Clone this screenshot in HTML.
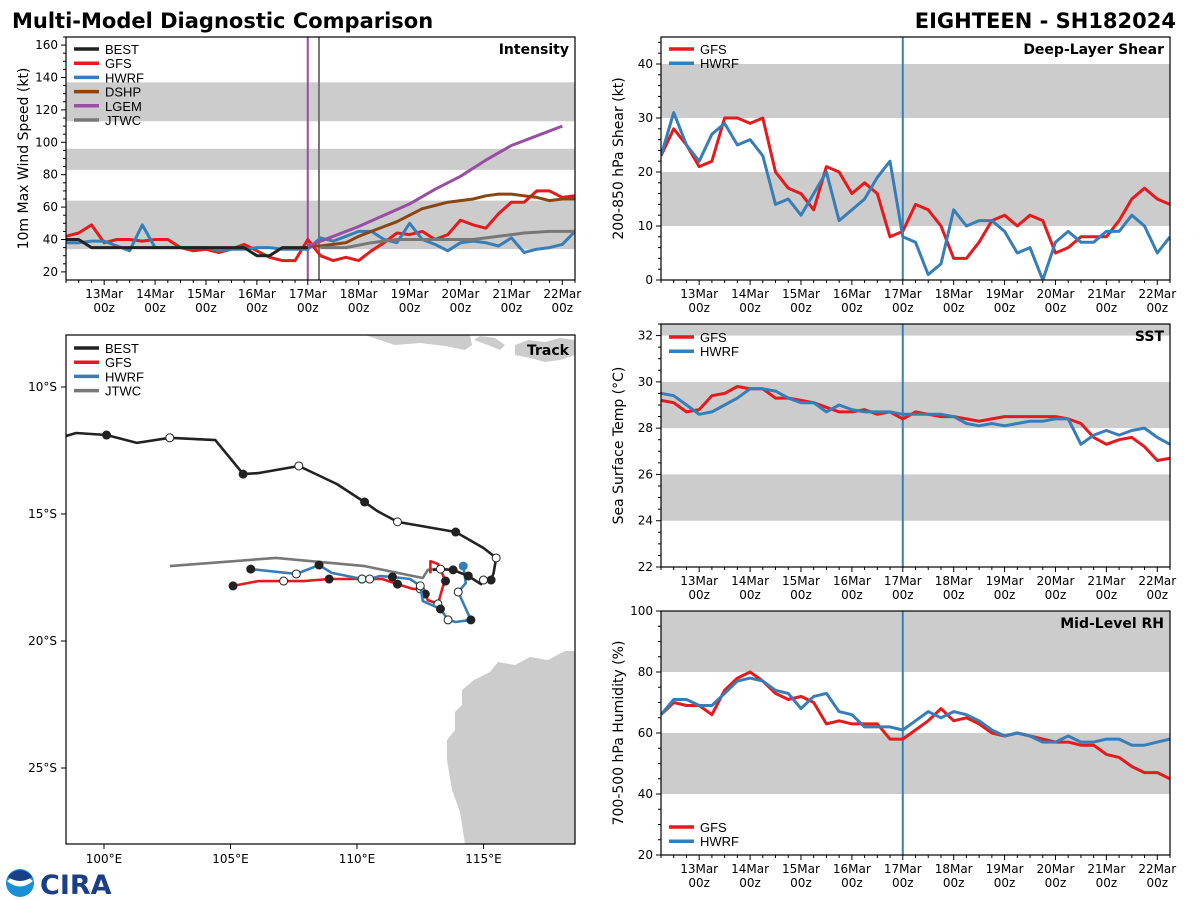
<!DOCTYPE html>
<html><head><meta charset="utf-8"><title>Multi-Model Diagnostic Comparison</title>
<style>
html,body{margin:0;padding:0;background:#fff;}
svg{display:block;font-family:"DejaVu Sans","Liberation Sans",sans-serif;}
.lg{font-family:"Liberation Sans","DejaVu Sans",sans-serif;}
</style></head>
<body>
<svg id="root" width="1200" height="900" viewBox="0 0 1200 900" xmlns="http://www.w3.org/2000/svg">
<text x="12" y="28" font-size="21" font-weight="bold" fill="#000">Multi-Model Diagnostic Comparison</text>
<text x="1176" y="28" font-size="21" font-weight="bold" fill="#000" text-anchor="end">EIGHTEEN - SH182024</text>
<g>
<circle cx="20" cy="883" r="14" fill="#1a8fd6"/>
<path d="M7,881 Q20,870 33,881 Q20,892 7,881Z" fill="#fff"/>
<path d="M8,877 A14,14 0 0 1 32,877 Q20,885 8,877Z" fill="#1b3f86"/>
<text x="40" y="894" font-size="27" font-weight="bold" fill="#1b3f86">CIRA</text>
</g>
<g id="plots"></g>
</svg>
<script>
// ---------- data ----------
const tSix = [];
for (let i = 0; i < 41; i++) tSix.push(-0.75 + i * 0.25);
const dayLabels = ["13Mar","14Mar","15Mar","16Mar","17Mar","18Mar","19Mar","20Mar","21Mar","22Mar"];

const bestInt = [40,40,35,35,35,35,35,35,35,35,35,35,35,35,35,30,30,35,35,35];
const gfsInt = [42,44,49,38,40,40,39,40,40,35,33,34,32,34,37,33,29,27,27,40,30,27,29,27,33,38,44,43,45,40,43,52,49,47,56,63,63,70,70,66,67];
const hwrfInt = [38,38,39,39,36,33,49,35,35,35,35,35,33,34,34,35,35,34,34,34,41,39,42,45,45,40,38,50,40,37,33,38,39,38,36,41,32,34,35,37,45];
const dshpT = [4,4.25,4.5,4.75,5,5.25,5.5,5.75,6,6.25,6.5,6.75,7,7.25,7.5,7.75,8,8.25,8.5,8.75,9,9.25];
const dshpInt = [36,36,37,38,42,45,48,51,55,59,61,63,64,65,67,68,68,67,66,64,65,65];
const lgemT = [4,4.5,5,5.5,6,6.5,7,7.5,8,8.5,9];
const lgemInt = [36,42,48,55,62,71,79,89,98,104,110];
const jtwcT = [4.25,4.75,5.25,5.75,6.25,6.75,7.25,7.75,8.25,8.75,9.25];
const jtwcInt = [35,35,38,40,40,40,40,42,44,45,45];

const gfsShear = [23,28,25,21,22,30,30,29,30,20,17,16,13,21,20,16,18,16,8,9,14,13,10,4,4,7,11,12,10,12,11,5,6,8,8,8,11,15,17,15,14];
const hwrfShear = [23,31,25,22,27,29,25,26,23,14,15,12,16,20,11,13,15,19,22,8,7,1,3,13,10,11,11,9,5,6,0,7,9,7,7,9,9,12,10,5,8];

const gfsSst = [29.2,29.1,28.7,28.8,29.4,29.5,29.8,29.7,29.7,29.3,29.3,29.2,29.1,28.9,28.7,28.7,28.8,28.6,28.7,28.4,28.7,28.6,28.5,28.5,28.4,28.3,28.4,28.5,28.5,28.5,28.5,28.5,28.4,28.2,27.6,27.3,27.5,27.6,27.2,26.6,26.7];
const hwrfSst = [29.5,29.4,29.0,28.6,28.7,29.0,29.3,29.7,29.7,29.6,29.3,29.1,29.1,28.7,29.0,28.8,28.7,28.7,28.7,28.6,28.6,28.6,28.6,28.5,28.2,28.1,28.2,28.1,28.2,28.3,28.3,28.4,28.4,27.3,27.7,27.9,27.7,27.9,28.0,27.6,27.3];

const gfsRh = [66,70,69,69,66,74,78,80,77,73,71,72,70,63,64,63,63,63,58,58,61,64,68,64,65,63,60,59,60,59,58,57,57,56,56,53,52,49,47,47,45];
const hwrfRh = [66,71,71,69,69,73,77,78,77,74,73,68,72,73,67,66,62,62,62,61,64,67,65,67,66,64,61,59,60,59,57,57,59,57,57,58,58,56,56,57,58];

const bestLon = [98.5,98.9,100.1,101.3,102.6,104.4,105.5,106.1,107.7,109.2,110.3,110.8,111.6,113.9,115.0,115.5,115.4,115.3,115.0,114.9,114.4,113.8,113.3,113.0];
const bestLat = [-11.93,-11.81,-11.89,-12.2,-12.0,-12.09,-13.43,-13.39,-13.11,-13.82,-14.53,-14.88,-15.31,-15.71,-16.34,-16.73,-17.32,-17.6,-17.6,-17.76,-17.44,-17.2,-17.17,-17.2];
const bestMk = [0,0,1,0,2,0,1,0,2,0,1,0,2,1,0,2,0,1,2,0,1,1,2,0];
const gfsLon = [105.1,106.1,107.1,107.9,108.9,110.2,111.0,111.6,112.2,112.5,112.7,112.8,113.2,113.4,113.5,113.2,112.9,112.9];
const gfsLat = [-17.83,-17.64,-17.64,-17.64,-17.56,-17.56,-17.56,-17.76,-17.95,-17.95,-18.15,-18.39,-18.54,-17.84,-17.64,-16.97,-16.86,-17.34];
const gfsMk = [1,0,2,0,1,2,0,1,0,2,1,0,2,0,1,0,0,0];
const hwrfLon = [105.8,107.6,108.5,109.0,110.2,110.5,110.9,111.4,112.1,112.5,112.6,113.3,113.6,113.9,114.5,114.0,114.3,114.2];
const hwrfLat = [-17.17,-17.36,-17.01,-17.32,-17.56,-17.56,-17.44,-17.48,-17.56,-17.83,-18.43,-18.74,-19.17,-19.25,-19.17,-18.07,-17.72,-17.05];
const hwrfMk = [1,2,1,0,2,2,0,1,0,2,0,1,2,0,1,2,0,3];
const jtwcLon = [102.6,106.8,110.3,112.6,112.8,113.1];
const jtwcLat = [-17.05,-16.73,-17.05,-17.52,-17.2,-17.17];

// ---------- helpers ----------
const NS = "http://www.w3.org/2000/svg";
const plots = document.getElementById("plots");
function mk(tag, attrs, parent) {
  const e = document.createElementNS(NS, tag);
  for (const k in attrs) e.setAttribute(k, attrs[k]);
  (parent || plots).appendChild(e);
  return e;
}
const C = {red:"#e41a1c", blue:"#377eb8", black:"#222", brown:"#8b4513", purple:"#984ea3", gray:"#777"};

function timePanel(P) {
  const g = mk("g", {});
  
  
  const X = t => P.x0 + (t + 0.75) / 10 * (P.x1 - P.x0);
  const Y = v => P.y1 - (v - P.vmin) / (P.vmax - P.vmin) * (P.y1 - P.y0);
  P.bands.forEach(b => {
    const r = mk("rect", {x:P.x0, y:Y(Math.min(b[1],P.vmax)), width:P.x1-P.x0, height:Y(b[0])-Y(Math.min(b[1],P.vmax)), fill:"#cccccc"}, g);
    
    
  });
  for (let i = -3; i <= 37; i++) {
    const t = i * 0.25, x = X(t);
    const major = i % 4 === 0;
    mk("line", {x1:x, x2:x, y1:P.y1, y2:P.y1 + (major ? 5 : 3), stroke:"#000"}, g);
    if (major && i >= 0 && i / 4 < dayLabels.length) {
      const l1 = mk("text", {x:x, y:P.y1+18, "font-size":12, "text-anchor":"middle"}, g);
      l1.textContent = dayLabels[i/4];
      
      
      const l2 = mk("text", {x:x, y:P.y1+32, "font-size":12, "text-anchor":"middle"}, g);
      l2.textContent = "00z";
    }
  }
  for (let v = P.tickStart; v <= P.vmax + 1e-6; v += P.minor) {
    const y = Y(v);
    if (y < P.y0 - 0.5) continue;
    const major = Math.abs((v - P.tickStart) / P.major - Math.round((v - P.tickStart) / P.major)) < 1e-6;
    mk("line", {x1:P.x0 - (major ? 5 : 3), x2:P.x0, y1:y, y2:y, stroke:"#000"}, g);
    if (major) {
      const l = mk("text", {x:P.x0-8, y:y+4, "font-size":12, "text-anchor":"end"}, g);
      l.textContent = v;
      
      
    }
  }
  const yt = mk("text", {x:0, y:0, "font-size":14, "text-anchor":"middle", transform:`translate(${P.x0-38},${(P.y0+P.y1)/2}) rotate(-90)`}, g);
  yt.textContent = P.ylabel;
  
  
  (P.vlines || []).forEach(v => {
    const l = mk("line", {x1:X(v[0]), x2:X(v[0]), y1:P.y0, y2:P.y1, stroke:v[1], "stroke-width":2}, g);
    
    
  });
  const cp = "clip-" + P.name;
  const cl = mk("clipPath", {id:cp}, g);
  mk("rect", {x:P.x0, y:P.y0, width:P.x1-P.x0, height:P.y1-P.y0}, cl);
  P.series.forEach(s => {
    const d = s.v.map((v, i) => (i ? "L" : "M") + X(s.t[i]).toFixed(1) + "," + Y(v).toFixed(1)).join("");
    const p = mk("path", {d:d, fill:"none", stroke:s.c, "stroke-width":3, "stroke-linejoin":"round", "clip-path":`url(#${cp})`}, g);
    
    
  });
  mk("rect", {x:P.x0, y:P.y0, width:P.x1-P.x0, height:P.y1-P.y0, fill:"none", stroke:"#000", "stroke-width":1.2}, g);
  const tt = mk("text", {x:P.x1-6, y:P.y0+17, "font-size":14, "font-weight":"bold", "text-anchor":"end"}, g);
  tt.textContent = P.title;
  
  
  legend(g, P.x0+8, P.legendY, P.legend);
}
function legend(g, x, y, items) {
  items.forEach((it, i) => {
    const yy = y + i * 14.2;
    const lg = mk("g", {}, g);
    
    
    mk("line", {x1:x, x2:x+25, y1:yy, y2:yy, stroke:it[1], "stroke-width":3.5}, lg);
    const t = mk("text", {x:x+31, y:yy+5, "font-size":13, "class":"lg"}, lg);
    t.textContent = it[0];
  });
}

timePanel({name:"intensity-panel", x0:66, x1:575, y0:37, y1:280, vmin:15, vmax:165, tickStart:20, major:20, minor:5,
  ylabel:"10m Max Wind Speed (kt)", title:"Intensity", bands:[[34,64],[83,96],[113,137]],
  vlines:[[4,C.purple],[4.22,C.gray]], legendY:49,
  legend:[["BEST",C.black],["GFS",C.red],["HWRF",C.blue],["DSHP",C.brown],["LGEM",C.purple],["JTWC",C.gray]],
  series:[{n:"gfs",t:tSix,v:gfsInt,c:C.red},{n:"hwrf",t:tSix,v:hwrfInt,c:C.blue},{n:"best",t:tSix.slice(0,20),v:bestInt,c:C.black},
    {n:"dshp",t:dshpT,v:dshpInt,c:C.brown},{n:"lgem",t:lgemT,v:lgemInt,c:C.purple},{n:"jtwc",t:jtwcT,v:jtwcInt,c:C.gray}]});
timePanel({name:"shear-panel", x0:661, x1:1170, y0:37, y1:280, vmin:0, vmax:45, tickStart:0, major:10, minor:2,
  ylabel:"200-850 hPa Shear (kt)", title:"Deep-Layer Shear", bands:[[10,20],[30,40]],
  vlines:[[4,C.blue]], legendY:49, legend:[["GFS",C.red],["HWRF",C.blue]],
  series:[{n:"gfs",t:tSix,v:gfsShear,c:C.red},{n:"hwrf",t:tSix,v:hwrfShear,c:C.blue}]});
timePanel({name:"sst-panel", x0:661, x1:1170, y0:324, y1:567, vmin:22, vmax:32.5, tickStart:22, major:2, minor:0.5,
  ylabel:"Sea Surface Temp (°C)", title:"SST", bands:[[24,26],[28,30],[32,33]],
  vlines:[[4,C.blue]], legendY:337, legend:[["GFS",C.red],["HWRF",C.blue]],
  series:[{n:"gfs",t:tSix,v:gfsSst,c:C.red},{n:"hwrf",t:tSix,v:hwrfSst,c:C.blue}]});
timePanel({name:"rh-panel", x0:661, x1:1170, y0:611, y1:855, vmin:20, vmax:100, tickStart:20, major:20, minor:5,
  ylabel:"700-500 hPa Humidity (%)", title:"Mid-Level RH", bands:[[40,60],[80,100]],
  vlines:[[4,C.blue]], legendY:827, legend:[["GFS",C.red],["HWRF",C.blue]],
  series:[{n:"gfs",t:tSix,v:gfsRh,c:C.red},{n:"hwrf",t:tSix,v:hwrfRh,c:C.blue}]});

// ---------- track map ----------
(function(){
  const x0=66,x1=575,y0=335,y1=844;
  const g = mk("g", {});
  
  
  const LX = lon => 104 + (lon - 100) * 25.3;
  const LY = lat => 387 + (-lat - 10) * 25.4;
  const cl = mk("clipPath", {id:"clip-track"}, g);
  mk("rect", {x:x0, y:y0, width:x1-x0, height:y1-y0}, cl);
  const land = mk("g", {"clip-path":"url(#clip-track)", fill:"#cccccc"}, g);
  
  
  mk("path", {d:"M575,651 L565,651 L548,660 L530,657 L515,665 L498,662 L490,672 L474,680 L462,690 L462,705 L455,712 L455,730 L447,740 L447,760 L452,790 L460,812 L465,844 L575,844Z"}, land);
  mk("path", {d:"M365,335 L380,340 L395,345 L420,343 L445,346 L465,350 L472,345 L470,335Z"}, land);
  mk("path", {d:"M474,340 L488,345 L500,350 L505,345 L495,338 L480,336Z"}, land);
  mk("path", {d:"M515,345 L528,340 L545,342 L560,338 L575,340 L575,355 L560,360 L545,362 L530,358 L515,355Z"}, land);
  function track(lon, lat, col, mkr, name) {
    const d = lon.map((v,i)=>(i?"L":"M")+LX(v).toFixed(1)+","+LY(lat[i]).toFixed(1)).join("");
    const p = mk("path", {d:d, fill:"none", stroke:col, "stroke-width":2.6, "stroke-linejoin":"round", "clip-path":"url(#clip-track)"}, g);
    
    
    if (mkr) mkr.forEach((m,i)=>{
      if (!m) return;
      const fill = m===1 ? "#222" : (m===3 ? C.blue : "#fff");
      const c = mk("circle", {cx:LX(lon[i]), cy:LY(lat[i]), r:4, fill:fill, stroke:m===3?C.blue:"#222", "stroke-width":1}, g);
      
      
    });
  }
  track(jtwcLon, jtwcLat, C.gray, null, "jtwc");
  track(gfsLon, gfsLat, C.red, gfsMk, "gfs");
  track(hwrfLon, hwrfLat, C.blue, hwrfMk, "hwrf");
  track(bestLon, bestLat, C.black, bestMk, "best");
  mk("rect", {x:x0, y:y0, width:x1-x0, height:y1-y0, fill:"none", stroke:"#000", "stroke-width":1.2}, g);
  [10,15,20,25].forEach(v=>{
    const y = LY(-v);
    mk("line", {x1:x0-5, x2:x0, y1:y, y2:y, stroke:"#000"}, g);
    const t = mk("text", {x:x0-9, y:y+4, "font-size":12, "text-anchor":"end"}, g);
    t.textContent = v + "°S";
    
    
  });
  [100,105,110,115].forEach(v=>{
    const x = LX(v);
    mk("line", {x1:x, x2:x, y1:y1, y2:y1+5, stroke:"#000"}, g);
    const t = mk("text", {x:x, y:y1+19, "font-size":12, "text-anchor":"middle"}, g);
    t.textContent = v + "°E";
    
    
  });
  const tt = mk("text", {x:x1-6, y:y0+20, "font-size":14, "font-weight":"bold", "text-anchor":"end"}, g);
  tt.textContent = "Track";
  
  
  legend(g, 74, 348, [["BEST",C.black],["GFS",C.red],["HWRF",C.blue],["JTWC",C.gray]]);
})();
</script>
</body></html>
